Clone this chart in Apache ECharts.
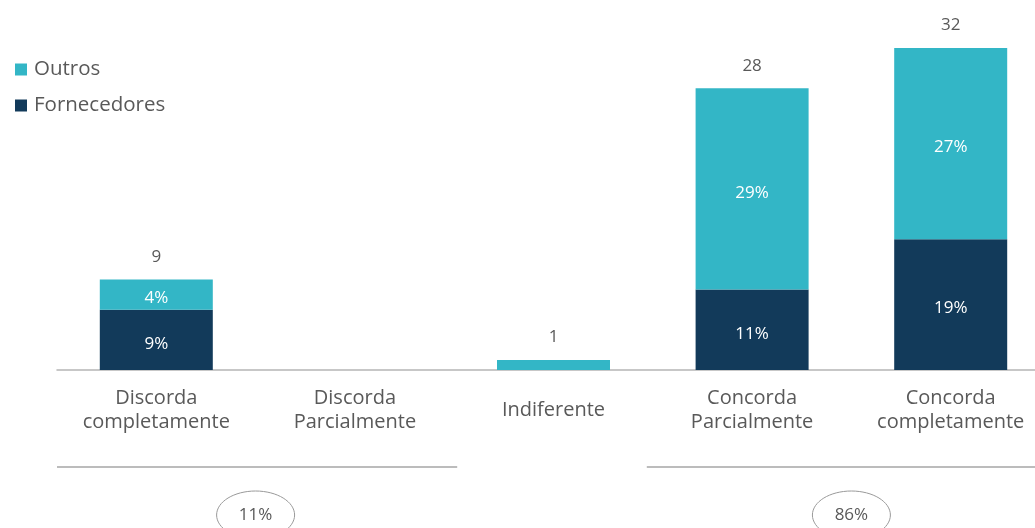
<!DOCTYPE html>
<html><head><meta charset="utf-8">
<script src="https://cdn.jsdelivr.net/npm/echarts@6/dist/echarts.min.js"></script>
<style>html,body{margin:0;padding:0;background:#fff}#c{width:1035px;height:528px}</style>
</head><body><div id="c"></div>
<script>
const categories = ['Discorda\ncompletamente', 'Discorda\nParcialmente', 'Indiferente', 'Concorda\nParcialmente', 'Concorda\ncompletamente'];
const fornecedores = [6, 0, 0, 8, 13];
const outros = [3, 0, 1, 20, 19];
const fornecedoresPct = ['9%', '', '', '11%', '19%'];
const outrosPct = ['4%', '', '', '29%', '27%'];
const totals = [9, 0, 1, 28, 32];
const groupLabels = ['11%', '86%'];
const groupSpans = [[0, 1], [3, 4]];

const FONT = '"Open Sans", Lato, sans-serif';
const TXT = '#595959';
const chart = echarts.init(document.getElementById('c'));
chart.setOption({
  animation: false,
  textStyle: { fontFamily: FONT },
  legend: {
    orient: 'vertical', left: 10, top: 54, itemWidth: 12, itemHeight: 12, itemGap: 15,
    icon: 'rect',
    data: ['Outros', 'Fornecedores'],
    textStyle: { fontSize: 20.5, color: TXT, fontFamily: FONT, padding: [0, 0, 0, 2] }
  },
  grid: { left: 57, top: 48, width: 993, height: 322, outerBoundsMode: 'none', containLabel: false },
  xAxis: {
    type: 'category', data: categories,
    axisLine: { lineStyle: { color: '#b5b5b5', width: 1.5 } },
    axisTick: { show: false },
    axisLabel: { color: TXT, fontSize: 20, lineHeight: 24, fontFamily: FONT, margin: 40, verticalAlign: 'middle', interval: 0 }
  },
  yAxis: { type: 'value', min: 0, max: 32, show: false, splitLine: { show: false } },
  series: [
    {
      name: 'Fornecedores', type: 'bar', stack: 's', barWidth: 113, data: fornecedores,
      itemStyle: { color: '#123A5A' },
      label: { show: true, position: 'inside', offset: [0, 4], color: '#fff', fontSize: 17, fontFamily: FONT,
        formatter: p => fornecedoresPct[p.dataIndex] }
    },
    {
      name: 'Outros', type: 'bar', stack: 's', barWidth: 113, data: outros,
      itemStyle: { color: '#33B6C6' },
      label: { show: true, position: 'inside', offset: [0, 4], color: '#fff', fontSize: 17, fontFamily: FONT,
        formatter: p => outrosPct[p.dataIndex] }
    },
    {
      name: 'Total', type: 'bar', stack: 's', barWidth: 113, data: totals.map(() => 0),
      itemStyle: { color: 'transparent' },
      label: { show: true, position: 'top', distance: 14, color: TXT, fontSize: 17, fontFamily: FONT,
        formatter: p => totals[p.dataIndex] ? String(totals[p.dataIndex]) : '' }
    }
  ]
});

const step = chart.convertToPixel({ xAxisIndex: 0 }, categories[1]) - chart.convertToPixel({ xAxisIndex: 0 }, categories[0]);
const graphics = [];
groupSpans.forEach((s, i) => {
  const x1 = chart.convertToPixel({ xAxisIndex: 0 }, categories[s[0]]) - step / 2;
  const x2 = chart.convertToPixel({ xAxisIndex: 0 }, categories[s[1]]) + step / 2;
  const cx = (x1 + x2) / 2;
  graphics.push({ type: 'line', shape: { x1: i === 0 ? x1 : x1 - 6, y1: 467, x2: Math.min(x2 + 3, 1040), y2: 467 }, style: { stroke: '#a6a6a6', lineWidth: 1.3 } });
  graphics.push({ type: 'ellipse', shape: { cx: cx, cy: 515, rx: 39, ry: 24 }, style: { fill: 'none', stroke: '#999', lineWidth: 1 } });
  graphics.push({ type: 'text', x: cx, y: 515, style: { text: groupLabels[i], fill: TXT, fontSize: 17, fontFamily: FONT, align: 'center', verticalAlign: 'middle' } });
});
chart.setOption({ graphic: graphics });
</script>
</body></html>
